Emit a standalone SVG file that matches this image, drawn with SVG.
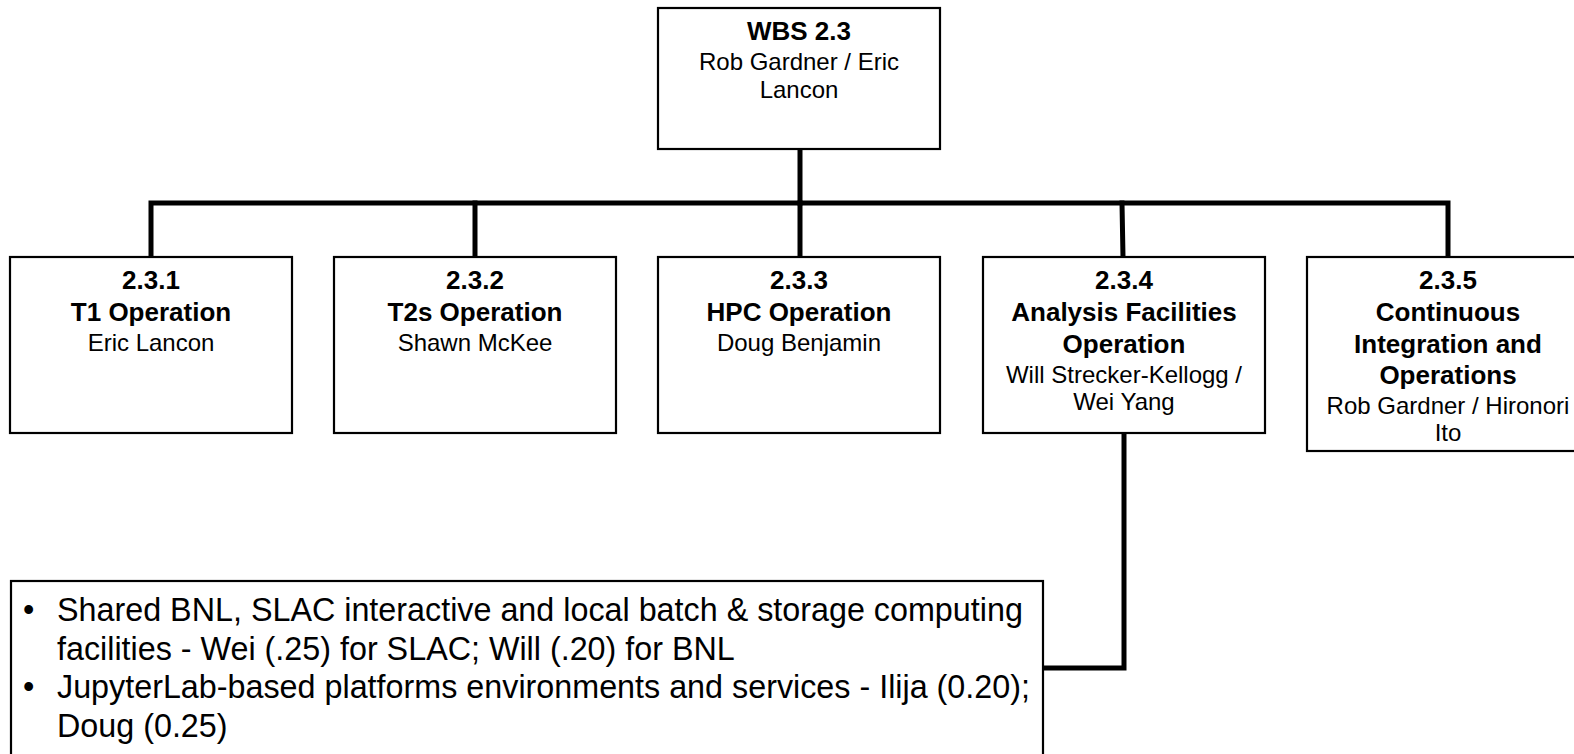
<svg xmlns="http://www.w3.org/2000/svg" width="1574" height="754" viewBox="0 0 1574 754">
<style>
.box{fill:#fff;stroke:#000;stroke-width:2.2}
.conn{fill:none;stroke:#000;stroke-width:5;stroke-linecap:square;stroke-linejoin:miter}
text{font-family:"Liberation Sans",Arial,Helvetica,sans-serif;fill:#000}
.b{font-size:26px;font-weight:bold;text-anchor:middle}
.r{font-size:24px;text-anchor:middle}
.t{font-size:32.3px}
</style>
<rect x="0" y="0" width="1574" height="754" fill="#fff"/>
<g id="connectors">
<path class="conn" d="M800,149 V203"/>
<path class="conn" d="M151,257 V203 H1448 V257"/>
<path class="conn" d="M475,203 V257"/>
<path class="conn" d="M800,203 V257"/>
<path class="conn" d="M1122,203 L1123,257"/>
<path class="conn" d="M1124,433 V668 H1043"/>
</g>
<g id="wbs23">
<rect class="box" x="658" y="8" width="282" height="141"/>
<text class="b" x="799" y="40">WBS 2.3</text>
<text class="r" x="799" y="70">Rob Gardner / Eric</text>
<text class="r" x="799" y="97.5">Lancon</text>
</g>
<g id="n231">
<rect class="box" x="10" y="257" width="282" height="176"/>
<text class="b" x="151" y="288.5">2.3.1</text>
<text class="b" x="151" y="321">T1 Operation</text>
<text class="r" x="151" y="350.5">Eric Lancon</text>
</g>
<g id="n232">
<rect class="box" x="334" y="257" width="282" height="176"/>
<text class="b" x="475" y="288.5">2.3.2</text>
<text class="b" x="475" y="321">T2s Operation</text>
<text class="r" x="475" y="350.5">Shawn McKee</text>
</g>
<g id="n233">
<rect class="box" x="658" y="257" width="282" height="176"/>
<text class="b" x="799" y="288.5">2.3.3</text>
<text class="b" x="799" y="321">HPC Operation</text>
<text class="r" x="799" y="350.5">Doug Benjamin</text>
</g>
<g id="n234">
<rect class="box" x="983" y="257" width="282" height="176"/>
<text class="b" x="1124" y="288.5">2.3.4</text>
<text class="b" x="1124" y="320.5">Analysis Facilities</text>
<text class="b" x="1124" y="352.5">Operation</text>
<text class="r" x="1124" y="382.5">Will Strecker-Kellogg /</text>
<text class="r" x="1124" y="409.5">Wei Yang</text>
</g>
<g id="n235">
<rect class="box" x="1307" y="257" width="282" height="194"/>
<text class="b" x="1448" y="288.5">2.3.5</text>
<text class="b" x="1448" y="320.5">Continuous</text>
<text class="b" x="1448" y="352.5">Integration and</text>
<text class="b" x="1448" y="384">Operations</text>
<text class="r" x="1448" y="414">Rob Gardner / Hironori</text>
<text class="r" x="1448" y="441">Ito</text>
</g>
<g id="details">
<rect class="box" x="11" y="581" width="1032" height="200"/>
<text class="t" x="23" y="621">•</text>
<text class="t" x="57" y="621">Shared BNL, SLAC interactive and local batch &amp; storage computing</text>
<text class="t" x="57" y="660">facilities - Wei (.25) for SLAC; Will (.20) for BNL</text>
<text class="t" x="23" y="698">•</text>
<text class="t" x="57" y="698">JupyterLab-based platforms environments and services - Ilija (0.20);</text>
<text class="t" x="57" y="737">Doug (0.25)</text>
</g>
</svg>
